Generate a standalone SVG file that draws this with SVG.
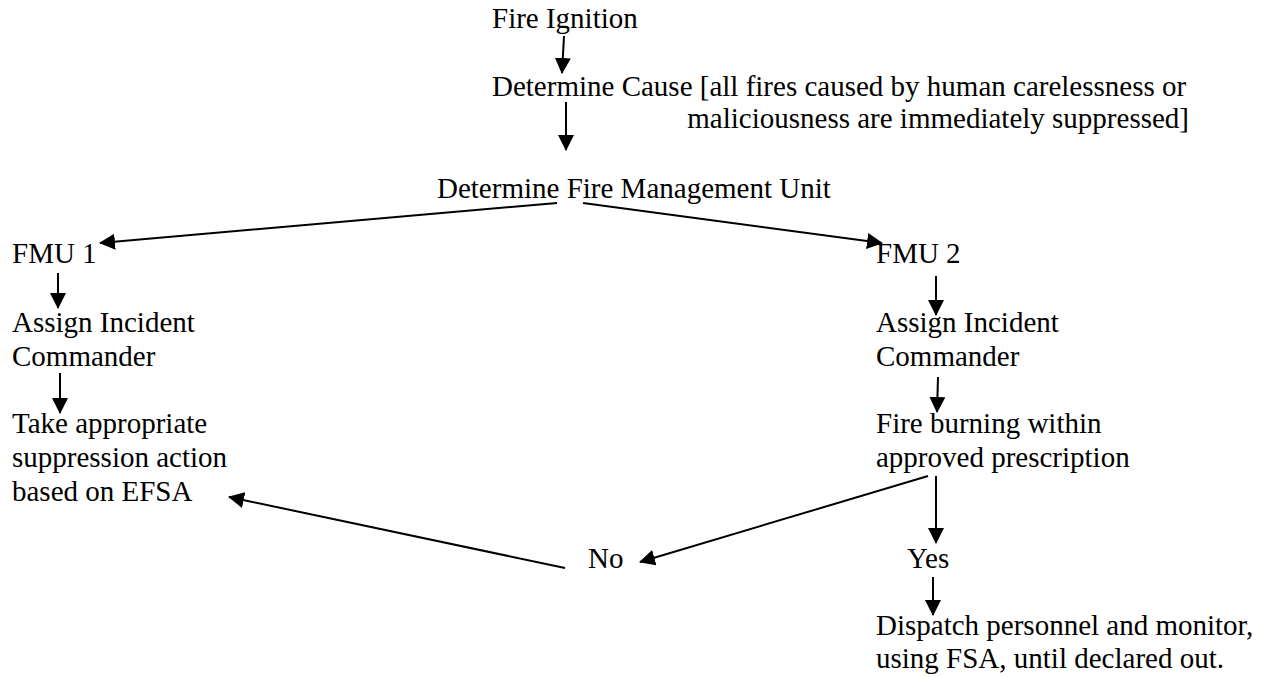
<svg xmlns="http://www.w3.org/2000/svg" width="1268" height="677" viewBox="0 0 1268 677">
<style>
text { font-family: "Liberation Serif", "Times New Roman", serif; font-size: 29px; fill: #000; }
.c line { stroke: #000; stroke-width: 2; marker-end: url(#ah); }
</style>
<defs>
<marker id="ah" markerUnits="userSpaceOnUse" markerWidth="16" markerHeight="16" refX="15" refY="8" orient="auto">
<path d="M0,0 L16,8 L0,16 z" fill="#000"/>
</marker>
</defs>
<rect width="1268" height="677" fill="#fff"/>
<g id="n-ignition"><text x="492" y="28">Fire Ignition</text></g>
<g id="n-cause"><text x="492" y="96">Determine Cause [all fires caused by human carelessness or</text><text x="1189" y="128" text-anchor="end">maliciousness are immediately suppressed]</text></g>
<g id="n-fmu"><text x="437" y="198">Determine Fire Management Unit</text></g>
<g id="n-fmu1"><text x="12" y="263">FMU 1</text></g>
<g id="n-fmu2"><text x="876" y="263">FMU 2</text></g>
<g id="n-assign1"><text x="12" y="332">Assign Incident</text><text x="12" y="366">Commander</text></g>
<g id="n-assign2"><text x="876" y="332">Assign Incident</text><text x="876" y="366">Commander</text></g>
<g id="n-suppress"><text x="12" y="433">Take appropriate</text><text x="12" y="467">suppression action</text><text x="12" y="501">based on EFSA</text></g>
<g id="n-prescription"><text x="876" y="433">Fire burning within</text><text x="876" y="467">approved prescription</text></g>
<g id="n-no"><text x="588" y="568">No</text></g>
<g id="n-yes"><text x="907" y="568">Yes</text></g>
<g id="n-dispatch"><text x="876" y="635">Dispatch personnel and monitor,</text><text x="876" y="668">using FSA, until declared out.</text></g>
<g id="connectors" class="c">
<line x1="564" y1="36" x2="562" y2="73"/>
<line x1="566" y1="102" x2="566" y2="150"/>
<line x1="557" y1="203" x2="100" y2="243"/>
<line x1="583" y1="203" x2="882" y2="243"/>
<line x1="58" y1="273" x2="58" y2="308"/>
<line x1="60" y1="373" x2="60" y2="413"/>
<line x1="936" y1="276" x2="936" y2="315"/>
<line x1="938" y1="377" x2="937" y2="412"/>
<line x1="936" y1="476" x2="936" y2="543"/>
<line x1="928" y1="476" x2="640" y2="562"/>
<line x1="565" y1="568" x2="229" y2="497"/>
<line x1="933" y1="577" x2="933" y2="615"/>
</g>
</svg>
